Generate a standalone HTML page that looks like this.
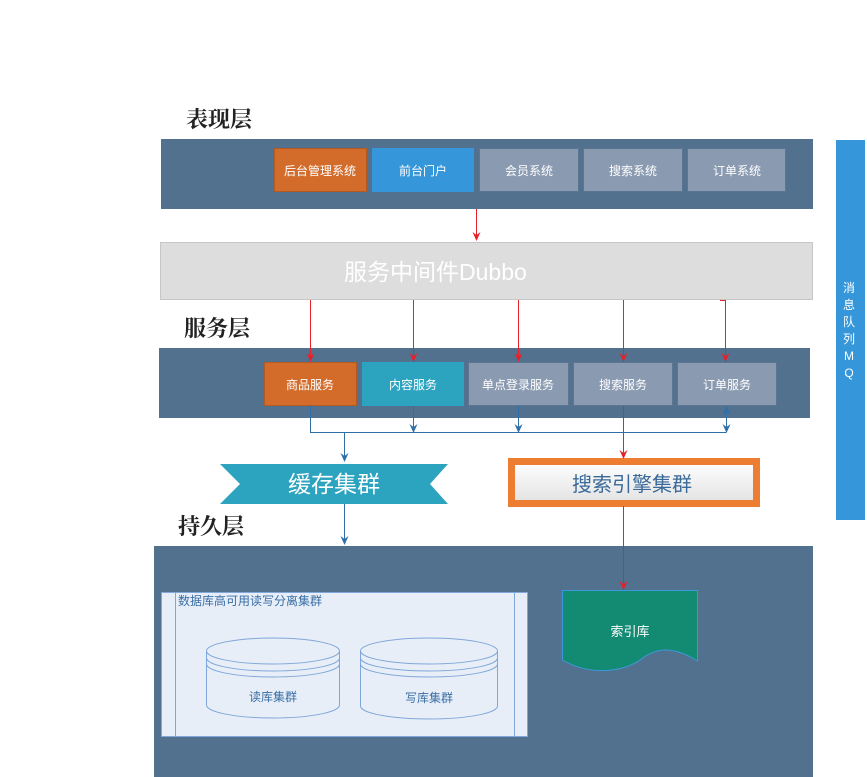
<!DOCTYPE html>
<html><head><meta charset="utf-8"><style>
html,body{margin:0;padding:0;background:#fff;}
svg{display:block;}
text{font-family:"Liberation Sans","Noto Sans CJK SC",sans-serif;}
.t{font-family:"Liberation Serif","Noto Serif CJK SC",serif;font-weight:bold;font-size:22px;fill:#222;}
</style></head><body>
<svg width="867" height="777" viewBox="0 0 867 777" xmlns="http://www.w3.org/2000/svg">
<defs>
<linearGradient id="g" x1="0" y1="0" x2="0" y2="1"><stop offset="0" stop-color="#ffffff"/><stop offset="1" stop-color="#e2e2e2"/></linearGradient>
</defs>

<text class="t" x="186" y="127">表现层</text>
<rect x="161" y="139" width="652" height="70" fill="#51718f"/>
<rect x="274.5" y="148.5" width="92" height="43" fill="#d36c2b" stroke="#b35a22"/>
<rect x="372" y="148" width="102" height="44" fill="#3597d9"/>
<rect x="479.5" y="148.5" width="99" height="43" fill="#8a9ab0" stroke="#5c7591"/>
<rect x="583.5" y="148.5" width="99" height="43" fill="#8a9ab0" stroke="#5c7591"/>
<rect x="687.5" y="148.5" width="98" height="43" fill="#8a9ab0" stroke="#5c7591"/>
<g font-size="12" fill="#fff" text-anchor="middle">
<text x="320" y="175">后台管理系统</text>
<text x="423" y="175">前台门户</text>
<text x="529" y="175">会员系统</text>
<text x="633" y="175">搜索系统</text>
<text x="737" y="175">订单系统</text>
</g>

<rect x="160.5" y="242.5" width="652" height="57" fill="#dddddd" stroke="#c6c6c6"/>
<text x="344" y="280" font-size="23" fill="#fff">服务中间件Dubbo</text>

<text class="t" x="184" y="336">服务层</text>
<rect x="159" y="348" width="651" height="70" fill="#51718f"/>
<rect x="264.5" y="362.5" width="92" height="43" fill="#d36c2b" stroke="#b35a22"/>
<rect x="362" y="362" width="102" height="44" fill="#2ca3bf"/>
<rect x="468.5" y="362.5" width="100" height="43" fill="#8a9ab0" stroke="#5c7591"/>
<rect x="573.5" y="362.5" width="99" height="43" fill="#8a9ab0" stroke="#5c7591"/>
<rect x="677.5" y="362.5" width="99" height="43" fill="#8a9ab0" stroke="#5c7591"/>
<g font-size="12" fill="#fff" text-anchor="middle">
<text x="310" y="389">商品服务</text>
<text x="413" y="389">内容服务</text>
<text x="518" y="389">单点登录服务</text>
<text x="623" y="389">搜索服务</text>
<text x="727" y="389">订单服务</text>
</g>

<polygon points="220,464 448,464 430,484 448,504 220,504 240,484" fill="#2ca3bf"/>
<text x="334" y="492" font-size="23" fill="#fff" text-anchor="middle">缓存集群</text>

<rect x="511.5" y="461.5" width="245" height="42" fill="url(#g)" stroke="#ed7d31" stroke-width="7"/>
<text x="632" y="491" font-size="20" fill="#3a6a99" text-anchor="middle">搜索引擎集群</text>

<text class="t" x="178" y="534">持久层</text>
<rect x="154" y="546" width="659" height="231" fill="#51718f"/>

<rect x="161.5" y="592.5" width="366" height="144" fill="#e8eef8" stroke="#7fa7d9"/>
<line x1="175.5" y1="593" x2="175.5" y2="736" stroke="#7fa7d9"/>
<line x1="514.5" y1="593" x2="514.5" y2="736" stroke="#7fa7d9"/>
<text x="178" y="605" font-size="12" fill="#3a6ea5">数据库高可用读写分离集群</text>

<g fill="none" stroke="#7fa7d9">
<path d="M206.5,651 A66.5,13 0 0 1 339.5,651 L339.5,705 A66.5,13 0 0 1 206.5,705 Z"/>
<path d="M206.5,651 A66.5,13 0 0 0 339.5,651"/>
<path d="M206.5,658 A66.5,13 0 0 0 339.5,658"/>
<path d="M206.5,664 A66.5,13 0 0 0 339.5,664"/>
<path d="M360.5,651 A68.5,13 0 0 1 497.5,651 L497.5,706 A68.5,13 0 0 1 360.5,706 Z"/>
<path d="M360.5,651 A68.5,13 0 0 0 497.5,651"/>
<path d="M360.5,658 A68.5,13 0 0 0 497.5,658"/>
<path d="M360.5,664 A68.5,13 0 0 0 497.5,664"/>
</g>
<text x="273" y="701" font-size="12" fill="#3a6ea5" text-anchor="middle">读库集群</text>
<text x="429" y="702" font-size="12" fill="#3a6ea5" text-anchor="middle">写库集群</text>

<path d="M562.5,590.5 L697.5,590.5 L697.5,661 C672,645 655,648 640,660 C622,672 590,676 562.5,660 Z" fill="#138a72" stroke="#3a9ad9"/>
<text x="630" y="636" font-size="13" fill="#fff" text-anchor="middle">索引库</text>

<!-- connectors -->
<g stroke="#e8202a" fill="none">
<line x1="476.5" y1="209" x2="476.5" y2="238"/>
<line x1="310.5" y1="300" x2="310.5" y2="359"/>
<line x1="413.5" y1="300" x2="413.5" y2="359"/>
<line x1="518.5" y1="300" x2="518.5" y2="359"/>
<line x1="623.5" y1="300" x2="623.5" y2="359"/>
<polyline points="720,300.5 725.5,300.5 725.5,359"/>
<line x1="623.5" y1="406" x2="623.5" y2="456"/>
<line x1="623.5" y1="506" x2="623.5" y2="587"/>
</g>
<g fill="#e8202a">
<polygon points="472.5,232 476.5,241 480.5,232 476.5,235"/>
<polygon points="306.5,353 310.5,362 314.5,353 310.5,356"/>
<polygon points="409.5,353 413.5,362 417.5,353 413.5,356"/>
<polygon points="514.5,353 518.5,362 522.5,353 518.5,356"/>
<polygon points="619.5,353 623.5,362 627.5,353 623.5,356"/>
<polygon points="721.5,353 725.5,362 729.5,353 725.5,356"/>
<polygon points="619.5,450 623.5,459 627.5,450 623.5,453"/>
<polygon points="619.5,581 623.5,590 627.5,581 623.5,584"/>
</g>
<g stroke="#2f6fa8" fill="none">
<polyline points="310.5,406 310.5,432.5 726.5,432.5"/>
<line x1="413.5" y1="406" x2="413.5" y2="432"/>
<line x1="518.5" y1="406" x2="518.5" y2="432"/>
<line x1="726.5" y1="408" x2="726.5" y2="432"/>
<line x1="344.5" y1="432" x2="344.5" y2="460"/>
<line x1="344.5" y1="504" x2="344.5" y2="542"/>
</g>
<g fill="#2f6fa8">
<polygon points="409.5,424 413.5,433 417.5,424 413.5,427"/>
<polygon points="514.5,424 518.5,433 522.5,424 518.5,427"/>
<polygon points="722.5,424 726.5,433 730.5,424 726.5,427"/>
<polygon points="722.5,415 726.5,406 730.5,415 726.5,412"/>
<polygon points="340.5,453 344.5,462 348.5,453 344.5,456"/>
<polygon points="340.5,536 344.5,545 348.5,536 344.5,539"/>
</g>

<rect x="836" y="140" width="29" height="380" fill="#3597d9"/>
<g font-size="12" fill="#fff" text-anchor="middle">
<text x="849" y="292">消</text>
<text x="849" y="309">息</text>
<text x="849" y="326">队</text>
<text x="849" y="343">列</text>
<text x="849" y="360">M</text>
<text x="849" y="377">Q</text>
</g>
</svg>
</body></html>
